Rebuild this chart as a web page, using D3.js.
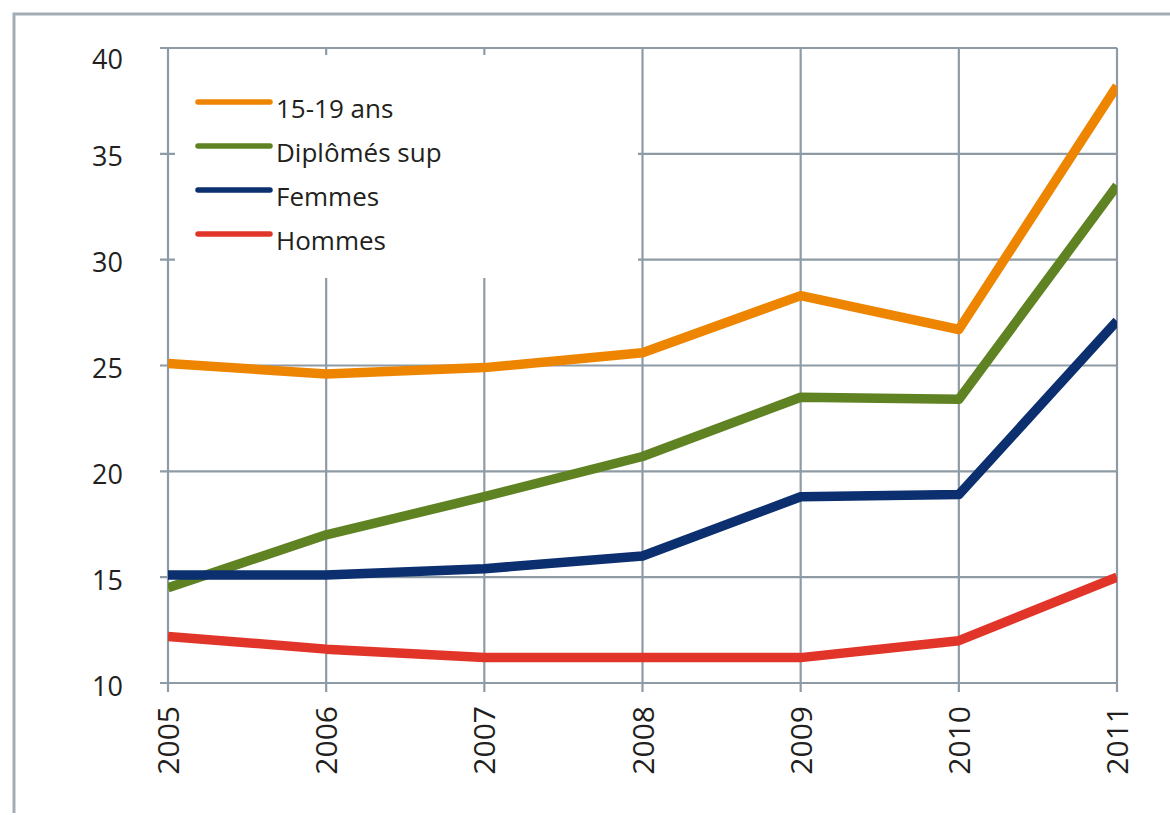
<!DOCTYPE html>
<html>
<head>
<meta charset="utf-8">
<script src="https://cdn.jsdelivr.net/npm/d3@7"></script>
<style>
  html, body { margin: 0; padding: 0; background: #fff; }
  svg { display: block; }
  text { font-family: "Open Sans", "Noto Sans", sans-serif; fill: #231f20; }
</style>
</head>
<body>
<svg id="chart" width="1170" height="815"></svg>
<script>
// Years on the horizontal axis
const years = [2005, 2006, 2007, 2008, 2009, 2010, 2011];

// Series (rate, %)
const ages1519   = [25.1, 24.6, 24.9, 25.6, 28.3, 26.7, 38.2];
const diplomes   = [14.5, 17.0, 18.8, 20.7, 23.5, 23.4, 33.5];
const femmes     = [15.1, 15.1, 15.4, 16.0, 18.8, 18.9, 27.1];
const hommes     = [12.2, 11.6, 11.2, 11.2, 11.2, 12.0, 15.0];

const seriesNames  = ["15-19 ans", "Diplômés sup", "Femmes", "Hommes"];
const seriesValues = [ages1519, diplomes, femmes, hommes];
const seriesColors = ["#ee8500", "#5f8222", "#0b2f6f", "#e2352a"];

// Y tick values
const yTicks = [10, 15, 20, 25, 30, 35, 40];

const svg = d3.select("#chart");
const gridColor = "#8e9ba5";

// Outer frame (top and left edges visible)
svg.append("path")
  .attr("d", "M14,813 L14,14 L1170,14")
  .attr("fill", "none")
  .attr("stroke", "#a3adb5")
  .attr("stroke-width", 3);

const margin = { left: 168, top: 48, right: 1117, bottom: 683 };

const x = d3.scalePoint()
  .domain(years)
  .range([margin.left, margin.right]);

const y = d3.scaleLinear()
  .domain([10, 40])
  .range([margin.bottom, margin.top]);

// Gridlines
const grid = svg.append("g").attr("stroke", gridColor).attr("stroke-width", 2.2);
grid.selectAll("line.h").data(yTicks).join("line")
  .attr("class", "h")
  .attr("x1", margin.left - 8).attr("x2", margin.right)
  .attr("y1", d => y(d)).attr("y2", d => y(d));
grid.selectAll("line.v").data(years).join("line")
  .attr("class", "v")
  .attr("x1", d => x(d)).attr("x2", d => x(d))
  .attr("y1", margin.top).attr("y2", margin.bottom + 9);

// Legend background (hides grid behind it)
const legend = svg.append("g");
legend.append("rect")
  .attr("x", 175).attr("y", 55)
  .attr("width", 463).attr("height", 223)
  .attr("fill", "#fff");

// Y axis labels
const yAxis = svg.append("g")
  .attr("transform", `translate(${margin.left - 8},0)`)
  .call(d3.axisLeft(y).tickValues(yTicks).tickSize(0).tickPadding(37));
yAxis.select(".domain").remove();
yAxis.selectAll("text")
  .attr("font-size", 27)
  .attr("fill", "#231f20")
  .attr("dy", (d) => d === 40 ? "0.75em" : "0.45em")
  .style("font-family", "'Open Sans', sans-serif");

// X axis labels (rotated)
const xAxis = svg.append("g")
  .attr("transform", `translate(0,${margin.bottom})`)
  .call(d3.axisBottom(x).tickSize(0).tickPadding(0));
xAxis.select(".domain").remove();
xAxis.selectAll("text")
  .attr("font-size", 30)
  .attr("fill", "#231f20")
  .attr("text-anchor", "end")
  .attr("transform", "translate(0,23) rotate(-90)")
  .attr("dy", "0.35em")
  .attr("x", 0).attr("y", 0)
  .style("font-family", "'Open Sans', sans-serif");

// Data lines, clipped to the plot area
svg.append("clipPath").attr("id", "plotClip")
  .append("rect")
  .attr("x", margin.left).attr("y", margin.top - 20)
  .attr("width", margin.right - margin.left)
  .attr("height", margin.bottom - margin.top + 40);

const line = d3.line()
  .x((d, i) => x(years[i]))
  .y(d => y(d));

svg.append("g").attr("clip-path", "url(#plotClip)")
  .selectAll("path").data(seriesValues).join("path")
  .attr("d", d => line(d))
  .attr("fill", "none")
  .attr("stroke", (d, i) => seriesColors[i])
  .attr("stroke-width", 9.5)
  .attr("stroke-linejoin", "round")
  .attr("stroke-linecap", "butt");

// Legend entries
const rowY = d3.scalePoint().domain(seriesNames).range([102, 234]);
const entries = legend.selectAll("g.entry").data(seriesNames).join("g")
  .attr("class", "entry")
  .attr("transform", d => `translate(0,${rowY(d)})`);
entries.append("line")
  .attr("x1", 198).attr("x2", 270)
  .attr("y1", 0).attr("y2", 0)
  .attr("stroke", (d, i) => seriesColors[i])
  .attr("stroke-width", 5.5)
  .attr("stroke-linecap", "round");
entries.append("text")
  .attr("x", 276).attr("y", 16)
  .attr("font-size", 26)
  .text(d => d);
</script>
</body>
</html>
